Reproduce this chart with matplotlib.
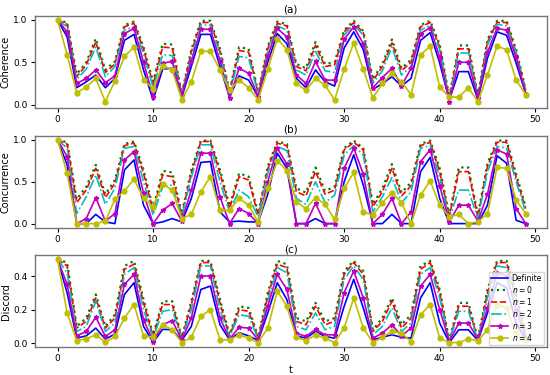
import matplotlib
matplotlib.use("Agg")
import matplotlib.pyplot as plt
import numpy as np

t = list(range(50))

# Panel (a) Coherence
coh_definite = [1.0, 0.80, 0.20, 0.27, 0.35, 0.20, 0.31, 0.76, 0.83, 0.41, 0.055, 0.42, 0.43, 0.09, 0.45, 0.83, 0.83, 0.45, 0.09, 0.34,
                0.29, 0.09, 0.50, 0.84, 0.72, 0.31, 0.20, 0.41, 0.27, 0.22, 0.67, 0.86, 0.65, 0.18, 0.25, 0.33, 0.22, 0.31, 0.76, 0.85,
                0.49, 0.055, 0.39, 0.39, 0.06, 0.55, 0.86, 0.82, 0.49, 0.13]
coh_n0 = [1.0, 0.97, 0.36, 0.50, 0.78, 0.41, 0.51, 0.94, 0.98, 0.68, 0.27, 0.72, 0.71, 0.13, 0.65, 0.99, 0.99, 0.66, 0.16, 0.68,
          0.66, 0.14, 0.69, 0.98, 0.95, 0.48, 0.43, 0.74, 0.48, 0.50, 0.88, 0.99, 0.87, 0.30, 0.48, 0.77, 0.43, 0.53, 0.94, 0.99,
          0.71, 0.09, 0.70, 0.70, 0.11, 0.77, 0.99, 0.99, 0.65, 0.18]
coh_n1 = [1.0, 0.95, 0.33, 0.47, 0.74, 0.38, 0.48, 0.92, 0.96, 0.65, 0.24, 0.68, 0.67, 0.12, 0.62, 0.97, 0.97, 0.63, 0.14, 0.64,
          0.62, 0.13, 0.66, 0.96, 0.93, 0.45, 0.40, 0.70, 0.45, 0.47, 0.86, 0.97, 0.85, 0.28, 0.45, 0.73, 0.40, 0.50, 0.92, 0.97,
          0.68, 0.08, 0.66, 0.66, 0.10, 0.74, 0.97, 0.97, 0.62, 0.17]
coh_n2 = [1.0, 0.92, 0.30, 0.42, 0.68, 0.33, 0.45, 0.88, 0.92, 0.60, 0.20, 0.59, 0.58, 0.12, 0.57, 0.94, 0.94, 0.60, 0.12, 0.57,
          0.55, 0.12, 0.62, 0.93, 0.88, 0.41, 0.35, 0.63, 0.40, 0.38, 0.82, 0.95, 0.82, 0.25, 0.40, 0.68, 0.35, 0.45, 0.88, 0.94,
          0.65, 0.07, 0.61, 0.61, 0.09, 0.70, 0.95, 0.93, 0.60, 0.16]
coh_n3 = [1.0, 0.86, 0.25, 0.31, 0.41, 0.26, 0.34, 0.84, 0.90, 0.50, 0.09, 0.49, 0.51, 0.11, 0.52, 0.89, 0.89, 0.52, 0.075, 0.43,
          0.37, 0.09, 0.57, 0.90, 0.80, 0.35, 0.25, 0.51, 0.29, 0.29, 0.77, 0.92, 0.72, 0.20, 0.32, 0.43, 0.22, 0.43, 0.84, 0.91,
          0.56, 0.035, 0.50, 0.50, 0.075, 0.62, 0.90, 0.88, 0.56, 0.13]
coh_n4 = [1.0, 0.59, 0.14, 0.21, 0.31, 0.035, 0.28, 0.57, 0.68, 0.29, 0.19, 0.46, 0.41, 0.06, 0.27, 0.63, 0.63, 0.41, 0.17, 0.29,
          0.20, 0.055, 0.42, 0.78, 0.65, 0.25, 0.17, 0.31, 0.23, 0.055, 0.42, 0.73, 0.42, 0.08, 0.25, 0.37, 0.27, 0.12, 0.59, 0.69,
          0.21, 0.09, 0.09, 0.20, 0.035, 0.35, 0.69, 0.65, 0.29, 0.12]

# Panel (b) Concurrence
con_definite = [1.0, 0.70, 0.0, 0.0, 0.11, 0.02, 0.0, 0.64, 0.76, 0.22, 0.0, 0.02, 0.06, 0.02, 0.30, 0.73, 0.74, 0.14, 0.02, 0.03,
                0.02, 0.02, 0.35, 0.84, 0.66, 0.0, 0.0, 0.06, 0.0, 0.0, 0.50, 0.82, 0.46, 0.0, 0.0, 0.11, 0.0, 0.0, 0.62, 0.79,
                0.30, 0.0, 0.0, 0.0, 0.0, 0.22, 0.81, 0.72, 0.04, 0.0]
con_n0 = [1.0, 0.97, 0.29, 0.44, 0.70, 0.35, 0.52, 0.95, 0.98, 0.64, 0.18, 0.63, 0.61, 0.12, 0.64, 0.99, 0.99, 0.64, 0.21, 0.60,
          0.56, 0.12, 0.68, 0.98, 0.95, 0.42, 0.37, 0.67, 0.39, 0.44, 0.90, 0.99, 0.90, 0.23, 0.42, 0.71, 0.37, 0.49, 0.95, 0.99,
          0.66, 0.10, 0.67, 0.67, 0.10, 0.72, 0.99, 0.99, 0.59, 0.20]
con_n1 = [1.0, 0.95, 0.25, 0.40, 0.66, 0.31, 0.48, 0.93, 0.96, 0.60, 0.15, 0.58, 0.56, 0.10, 0.60, 0.98, 0.98, 0.60, 0.18, 0.56,
          0.52, 0.10, 0.65, 0.96, 0.93, 0.38, 0.33, 0.62, 0.35, 0.40, 0.88, 0.97, 0.88, 0.20, 0.38, 0.66, 0.33, 0.45, 0.93, 0.97,
          0.62, 0.08, 0.62, 0.62, 0.08, 0.68, 0.97, 0.97, 0.55, 0.18]
con_n2 = [1.0, 0.90, 0.12, 0.32, 0.58, 0.23, 0.42, 0.90, 0.92, 0.50, 0.10, 0.44, 0.46, 0.08, 0.55, 0.94, 0.94, 0.50, 0.14, 0.40,
          0.32, 0.08, 0.60, 0.92, 0.87, 0.30, 0.23, 0.50, 0.25, 0.34, 0.82, 0.93, 0.82, 0.14, 0.32, 0.55, 0.25, 0.38, 0.90, 0.93,
          0.55, 0.06, 0.40, 0.40, 0.06, 0.62, 0.92, 0.90, 0.50, 0.14]
con_n3 = [1.0, 0.80, 0.0, 0.06, 0.31, 0.03, 0.12, 0.76, 0.86, 0.36, 0.0, 0.16, 0.24, 0.03, 0.40, 0.84, 0.84, 0.32, 0.0, 0.18,
          0.12, 0.0, 0.50, 0.90, 0.71, 0.0, 0.0, 0.24, 0.0, 0.0, 0.66, 0.90, 0.59, 0.0, 0.11, 0.30, 0.0, 0.14, 0.74, 0.88,
          0.45, 0.02, 0.22, 0.22, 0.03, 0.35, 0.88, 0.83, 0.18, 0.0]
con_n4 = [1.0, 0.60, 0.0, 0.0, 0.0, 0.03, 0.29, 0.39, 0.53, 0.30, 0.20, 0.47, 0.40, 0.06, 0.11, 0.38, 0.56, 0.16, 0.16, 0.30,
          0.22, 0.02, 0.42, 0.75, 0.63, 0.26, 0.18, 0.31, 0.23, 0.05, 0.42, 0.61, 0.14, 0.10, 0.25, 0.37, 0.25, 0.0, 0.34, 0.51,
          0.22, 0.08, 0.11, 0.0, 0.02, 0.12, 0.67, 0.66, 0.28, 0.12]

# Panel (c) Discord
dis_definite = [0.5, 0.30, 0.03, 0.044, 0.09, 0.024, 0.055, 0.29, 0.36, 0.10, 0.004, 0.083, 0.08, 0.016, 0.10, 0.32, 0.34, 0.11, 0.02, 0.063,
                0.044, 0.016, 0.18, 0.36, 0.26, 0.044, 0.03, 0.07, 0.04, 0.03, 0.22, 0.38, 0.21, 0.02, 0.036, 0.05, 0.036, 0.03, 0.27, 0.36,
                0.12, 0.004, 0.08, 0.08, 0.016, 0.18, 0.36, 0.33, 0.12, 0.02]
dis_n0 = [0.5, 0.48, 0.10, 0.15, 0.29, 0.10, 0.17, 0.46, 0.49, 0.26, 0.05, 0.25, 0.25, 0.035, 0.25, 0.49, 0.49, 0.26, 0.05, 0.22,
          0.21, 0.035, 0.30, 0.49, 0.47, 0.15, 0.13, 0.24, 0.13, 0.15, 0.43, 0.49, 0.43, 0.08, 0.15, 0.27, 0.11, 0.17, 0.46, 0.49,
          0.32, 0.015, 0.24, 0.24, 0.025, 0.32, 0.49, 0.49, 0.29, 0.06]
dis_n1 = [0.5, 0.46, 0.09, 0.13, 0.27, 0.09, 0.15, 0.44, 0.47, 0.24, 0.04, 0.23, 0.23, 0.03, 0.23, 0.48, 0.48, 0.24, 0.04, 0.20,
          0.19, 0.03, 0.28, 0.47, 0.45, 0.13, 0.11, 0.22, 0.11, 0.13, 0.41, 0.48, 0.41, 0.07, 0.13, 0.25, 0.09, 0.15, 0.44, 0.48,
          0.30, 0.01, 0.22, 0.22, 0.02, 0.30, 0.48, 0.48, 0.27, 0.05]
dis_n2 = [0.5, 0.42, 0.07, 0.10, 0.25, 0.07, 0.12, 0.41, 0.45, 0.20, 0.03, 0.19, 0.20, 0.025, 0.20, 0.46, 0.46, 0.20, 0.035, 0.17,
          0.16, 0.025, 0.25, 0.45, 0.42, 0.10, 0.08, 0.18, 0.08, 0.10, 0.38, 0.46, 0.38, 0.05, 0.10, 0.21, 0.07, 0.12, 0.41, 0.45,
          0.27, 0.01, 0.19, 0.19, 0.02, 0.27, 0.46, 0.45, 0.25, 0.04]
dis_n3 = [0.5, 0.35, 0.044, 0.07, 0.155, 0.04, 0.08, 0.35, 0.41, 0.14, 0.01, 0.11, 0.135, 0.02, 0.15, 0.40, 0.40, 0.15, 0.024, 0.095,
          0.09, 0.02, 0.22, 0.41, 0.32, 0.06, 0.04, 0.083, 0.05, 0.05, 0.30, 0.43, 0.27, 0.03, 0.06, 0.11, 0.044, 0.09, 0.34, 0.41,
          0.20, 0.01, 0.12, 0.12, 0.024, 0.21, 0.42, 0.40, 0.20, 0.03]
dis_n4 = [0.5, 0.18, 0.016, 0.026, 0.05, 0.006, 0.04, 0.15, 0.23, 0.044, 0.036, 0.11, 0.08, 0.004, 0.036, 0.16, 0.20, 0.02, 0.02, 0.05,
          0.03, 0.004, 0.09, 0.31, 0.22, 0.036, 0.016, 0.05, 0.03, 0.004, 0.09, 0.27, 0.09, 0.004, 0.036, 0.07, 0.06, 0.01, 0.17, 0.23,
          0.03, 0.004, 0.004, 0.024, 0.016, 0.08, 0.23, 0.21, 0.06, 0.02]

labels = ["Definite", "$n=0$", "$n=1$", "$n=2$", "$n=3$", "$n=4$"]
titles = ["(a)", "(b)", "(c)"]
ylabels = ["Coherence", "Concurrence", "Discord"]
panels = [
    [coh_definite, coh_n0, coh_n1, coh_n2, coh_n3, coh_n4],
    [con_definite, con_n0, con_n1, con_n2, con_n3, con_n4],
    [dis_definite, dis_n0, dis_n1, dis_n2, dis_n3, dis_n4],
]
ylims = [(-0.035, 1.05), (-0.048, 1.048), (-0.024, 0.525)]
yticks = [[0.0, 0.5, 1.0], [0.0, 0.5, 1.0], [0.0, 0.2, 0.4]]

styles = [
    dict(color="b", ls="-", lw=1.2),
    dict(color="g", ls=":", lw=1.6),
    dict(color="r", ls="--", lw=1.2),
    dict(color="c", ls="-.", lw=1.2),
    dict(color="m", ls="-", lw=1.2, marker="*", ms=3.5),
    dict(color="y", ls="-", lw=1.2, marker="o", ms=3.5),
]

fig = plt.figure(figsize=(5.5, 3.75), dpi=100)
boxes = [(0.713, 0.958), (0.393, 0.638), (0.074, 0.32)]
for i, (b, tp) in enumerate(boxes):
    ax = fig.add_axes([0.063, b, 0.931, tp - b])
    for series, lab, st in zip(panels[i], labels, styles):
        ax.plot(t, series, label=lab, **st)
    ax.set_xlim(-2.4, 51.2)
    ax.set_ylim(*ylims[i])
    ax.set_xticks([0, 10, 20, 30, 40, 50])
    ax.set_yticks(yticks[i])
    ax.tick_params(labelsize=6.5, length=3, width=0.8, pad=2)
    ax.set_title(titles[i], fontsize=7.5, pad=2)
    ax.set_ylabel(ylabels[i], fontsize=7, labelpad=2)
    for sp in ax.spines.values():
        sp.set_color("#777777")
        sp.set_linewidth(1.0)
    if i == 2:
        ax.set_xlabel("t", fontsize=7, labelpad=1)
        ax.legend(loc="lower right", fontsize=5.5, handlelength=2.2, labelspacing=0.12,
                  borderpad=0.3, framealpha=0.8, borderaxespad=0.3, handletextpad=0.5)

fig.savefig("out.png", dpi=100)
